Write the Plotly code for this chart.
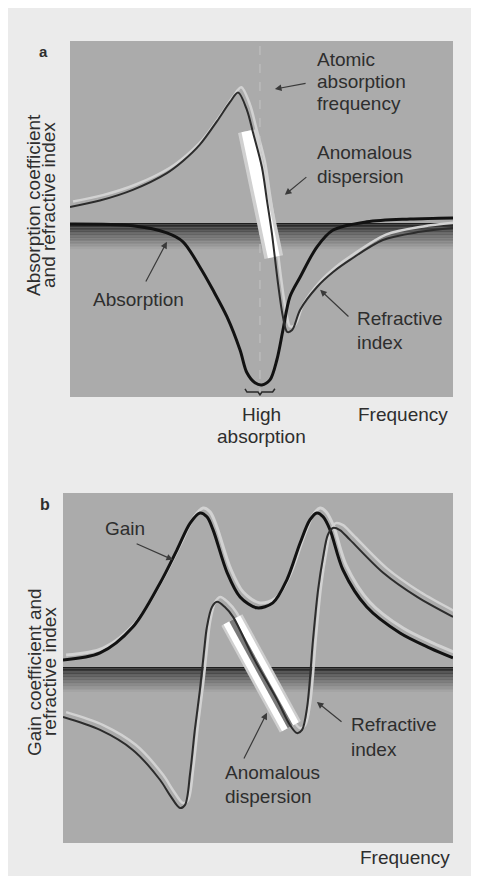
import plotly.graph_objects as go

# ---------------- Panel a data (frequency 0-100, arbitrary response units) ----------------
a_refr_x = [0, 7.8, 16.4, 25.3, 29.5, 33.9, 38.4, 41.8, 43.9, 46.2, 47.8, 50.1, 51.4, 52.7,
            54.3, 55.6, 56.7, 58.0, 60.1, 64.5, 68.7, 73.1, 81.7, 91.4, 100]
a_refr_y = [4.5, 6.3, 9.3, 14.0, 17.4, 22.0, 28.6, 34.0, 36.6, 31.7, 25.3, 15.7, 6.5, -2.8,
            -16.9, -26.4, -30.6, -30.1, -24.4, -18.0, -13.8, -10.4, -4.8, -2.5, -1.4]

a_abs_x = [0, 16.4, 25.3, 29.5, 33.9, 37.3, 41.0, 44.4, 46.2, 48.3, 50.1, 52.2, 54.0, 55.6,
           57.4, 60.1, 64.5, 68.7, 77.5, 88.8, 100]
a_abs_y = [-0.3, -0.8, -2.8, -5.3, -12.4, -18.8, -26.4, -35.7, -42.1, -44.9, -45.5, -44.1,
           -38.5, -30.1, -20.8, -15.2, -6.7, -2.0, 0.3, 1.1, 1.4]

a_anom_x = [46.3, 53.2]
a_anom_y = [25.8, -9.6]

a_atomic_freq = 49.6
a_range_y = [-48.9, 51.1]

a_brace_x = [45.7, 46.2, 49.1, 49.6, 50.1, 52.9, 53.5]
a_brace_y = [-46.6, -47.5, -47.5, -48.3, -47.5, -47.5, -46.6]

# ---------------- Panel b data ----------------
b_gain_x = [0, 9.5, 17.9, 24.9, 29.2, 32.6, 35.1, 36.9, 38.5, 42.1, 45.4, 49.7, 53.8, 57.4,
            60.8, 63.3, 65.1, 66.7, 68.5, 71.8, 77.9, 86.4, 94.1, 100]
b_gain_y = [2.0, 4.0, 11.4, 24.0, 33.4, 41.1, 44.0, 42.9, 39.1, 26.9, 20.0, 16.9, 18.3, 24.9,
            35.4, 42.0, 44.0, 42.9, 39.1, 27.7, 17.1, 9.7, 5.4, 2.6]

b_refr_x = [0, 9.5, 17.9, 24.9, 27.4, 30.0, 31.3, 32.6, 33.8, 35.1, 36.2, 36.9, 38.2, 39.5,
            41.5, 43.6, 48.7, 54.9, 58.2, 60.0, 61.3, 62.6, 64.1, 65.4, 66.7, 67.9, 69.2,
            71.0, 73.6, 82.1, 90.8, 100]
b_refr_y = [-14.3, -18.0, -23.7, -32.3, -36.6, -40.3, -39.4, -30.3, -18.0, -6.6, 4.9, 11.4,
            17.1, 18.6, 17.1, 14.3, 2.9, -9.4, -16.6, -18.9, -18.0, -11.4, 7.7, 22.0, 31.4,
            37.7, 39.7, 39.1, 36.3, 26.9, 20.0, 14.3]

b_anom_x = [43.3, 58.3]
b_anom_y = [13.4, -17.1]
b_range_y = [-50.3, 49.7]

# ---------------- styling ----------------
PAGE = "#ebebeb"
PLOT = "#ababab"
TXT = "#2e2e2e"
FONT = "Liberation Sans, Arial, Helvetica, sans-serif"
HALO = "#d2d2d2"
W, H, OFF = 479, 876, 8   # page body margin of the browser shifts the figure by OFF px


def px_x(px):
    return (px - OFF) / W


def px_y(py):
    return (H - (py - OFF)) / H


fig = go.Figure()


def line(x, y, color, width, xa="x", ya="y", shape="spline", dash=None):
    fig.add_trace(go.Scatter(
        x=x, y=y, mode="lines", xaxis=xa, yaxis=ya, hoverinfo="skip",
        line=dict(color=color, width=width, shape=shape, smoothing=0.9,
                  dash=dash), cliponaxis=False, showlegend=False))


# panel a
line([v + 0.8 for v in a_refr_x], [v + 1.5 for v in a_refr_y], HALO, 2.5)
line([a_atomic_freq, a_atomic_freq], a_range_y, "#c4c4c4", 1, shape="linear", dash="dash")
line(a_anom_x, a_anom_y, "#d0d0d0", 19, shape="linear")
line(a_anom_x, a_anom_y, "#ffffff", 12, shape="linear")
line(a_abs_x, a_abs_y, "#121212", 3)
line(a_refr_x, a_refr_y, "#2c2c2c", 2)
line(a_brace_x, a_brace_y, "#2a2a2a", 1.5, shape="linear")

# panel b
line([v + 0.8 for v in b_gain_x], [v + 1.4 for v in b_gain_y], HALO, 3, "x2", "y2")
line([v + 0.8 for v in b_refr_x], [v + 1.4 for v in b_refr_y], HALO, 2.5, "x2", "y2")
line(b_anom_x, b_anom_y, "#cfcfcf", 24, "x2", "y2", shape="linear")
line(b_anom_x, b_anom_y, "#ffffff", 19, "x2", "y2", shape="linear")
line(b_anom_x, b_anom_y, "#7a7a7a", 6, "x2", "y2", shape="linear")
line(b_gain_x, b_gain_y, "#121212", 3, "x2", "y2")
line(b_refr_x, b_refr_y, "#2c2c2c", 2, "x2", "y2")

# dark gradient band just below the zero level
shapes = []
n = 18
for xr, yr, depth in (("x", "y", 7.8), ("x2", "y2", 7.6)):
    for i in range(n):
        t = i / (n - 1)
        g = int(30 + (171 - 30) * (t ** 0.8))
        shapes.append(dict(type="rect", xref=xr, yref=yr, layer="below",
                           x0=0, x1=100, y0=-depth * i / n, y1=-depth * (i + 1) / n,
                           fillcolor=f"rgb({g},{g},{g})", line=dict(width=0)))

ann = []


def text(x, y, lines, xr="x", yr="y", xanchor="left", size=19, spacing=23, **kw):
    k = len(lines)
    for i, s in enumerate(lines):
        ann.append(dict(x=x, y=y, xref=xr, yref=yr, text=s, showarrow=False,
                        xanchor=xanchor, yanchor="middle",
                        yshift=-(i - (k - 1) / 2) * spacing,
                        font=dict(family=FONT, size=size, color=TXT), **kw))


def vtext(cx, cy, s, size=19):
    ann.append(dict(x=px_x(cx), y=px_y(cy), xref="paper", yref="paper", text=s,
                    showarrow=False, xanchor="center", yanchor="middle", textangle=-90,
                    font=dict(family=FONT, size=size, color=TXT)))


def arrow(hx, hy, tx, ty, xr="x", yr="y"):
    ann.append(dict(x=hx, y=hy, ax=tx, ay=ty, xref=xr, yref=yr, axref=xr, ayref=yr,
                    text="", showarrow=True, arrowhead=2, arrowsize=1.1,
                    arrowwidth=1.2, arrowcolor="#3a3a3a"))


# panel a labels
text(64.0, 39.6, ["Atomic", "absorption", "frequency"], spacing=22)
arrow(53.5, 37.6, 61.9, 39.3)
text(64.0, 16.3, ["Anomalous", "dispersion"], spacing=24)
arrow(56.1, 7.9, 62.1, 13.2)
text(18.0, -21.6, ["Absorption"], xanchor="center")
arrow(25.3, -5.3, 19.6, -16.9)
text(74.4, -30.1, ["Refractive", "index"], spacing=24)
arrow(65.3, -18.8, 73.1, -26.7)
text(50.1, px_y(426), ["High", "absorption"], yr="paper", xanchor="center", spacing=22)
text(86.9, px_y(414), ["Frequency"], yr="paper", xanchor="center")
text(px_x(43), px_y(51), ["<b>a</b>"], xr="paper", yr="paper", xanchor="center", size=15)
vtext(34, 205, "Absorption coefficient")
vtext(49, 205, "and refractive index")

# panel b labels
text(15.9, 39.7, ["Gain"], "x2", "y2", xanchor="center")
arrow(28.2, 30.6, 18.5, 35.4, "x2", "y2")
text(73.3, -20.0, ["Refractive", "index"], "x2", "y2", spacing=25)
arrow(65.1, -10.0, 71.8, -16.0, "x2", "y2")
text(41.0, -33.7, ["Anomalous", "dispersion"], "x2", "y2", spacing=24)
arrow(52.3, -13.1, 46.2, -26.6, "x2", "y2")
text(87.7, px_y(857), ["Frequency"], "x2", "paper", xanchor="center")
text(px_x(45), px_y(504), ["<b>b</b>"], xr="paper", yr="paper", xanchor="center", size=16)
vtext(34, 672, "Gain coefficient and")
vtext(49, 672, "refractive index")

ax_common = dict(showgrid=False, zeroline=False, showticklabels=False, ticks="",
                 showline=False, fixedrange=True)

fig.update_layout(
    width=W, height=H,
    margin=dict(l=0, r=0, t=0, b=0),
    paper_bgcolor=PAGE, plot_bgcolor=PLOT,
    showlegend=False,
    shapes=shapes, annotations=ann,
    xaxis=dict(domain=[px_x(70), px_x(453)], range=[0, 100], anchor="y", **ax_common),
    yaxis=dict(domain=[px_y(397), px_y(41)], range=a_range_y, anchor="x", **ax_common),
    xaxis2=dict(domain=[px_x(63), px_x(453)], range=[0, 100], anchor="y2", **ax_common),
    yaxis2=dict(domain=[px_y(843), px_y(493)], range=b_range_y, anchor="x2", **ax_common),
)

fig.write_html("out.html")
